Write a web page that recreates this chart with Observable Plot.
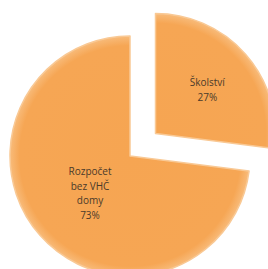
<!DOCTYPE html>
<html>
<head>
<meta charset="utf-8">
<script src="https://cdn.jsdelivr.net/npm/d3@7"></script>
<script src="https://cdn.jsdelivr.net/npm/@observablehq/plot@0.6"></script>
<style>
  html, body { margin: 0; padding: 0; background: #ffffff; }
  #chart svg { display: block; }
</style>
</head>
<body>
<div id="chart"></div>
<script>
const categories = ["Školství", "Rozpočet bez VHČ domy"];
const labelLines = [["Školství", "27%"], ["Rozpočet", "bez VHČ", "domy", "73%"]];
const values = [27, 73];
const explode = [34, 0];

const W = 268, H = 269;
const center = [130, 156];
const radius = 120;

const arcs = d3.pie().sort(null)(values);
const slices = arcs.map((a, i) => {
  const mid = (a.startAngle + a.endAngle) / 2;
  const dx = Math.sin(mid), dy = -Math.cos(mid);
  const cx = center[0] + explode[i] * dx, cy = center[1] + explode[i] * dy;
  const lf = i === 0 ? 0.57 : 0.45;
  return {
    category: categories[i],
    startAngle: a.startAngle, endAngle: a.endAngle,
    cx, cy,
    lx: cx + lf * radius * dx,
    ly: cy + lf * radius * dy,
    text: labelLines[i].join("\n")
  };
});

function pieMark(index, scales, vals, dimensions) {
  const g = d3.create("svg:g");
  const rPx = scales.x(radius) - scales.x(0);
  const defs = g.append("defs");
  const grad = defs.append("radialGradient").attr("id", "pg").attr("gradientUnits", "userSpaceOnUse")
    .attr("cx", 0).attr("cy", 0).attr("r", rPx);
  grad.append("stop").attr("offset", "0%").attr("stop-color", "#f6a552");
  grad.append("stop").attr("offset", "92%").attr("stop-color", "#f6a654");
  grad.append("stop").attr("offset", "100%").attr("stop-color", "#f8bb7a");
  const arc = d3.arc().innerRadius(0).outerRadius(rPx);
  for (const s of slices) {
    g.append("path")
      .attr("transform", `translate(${scales.x(s.cx)},${scales.y(s.cy)})`)
      .attr("d", arc({startAngle: s.startAngle, endAngle: s.endAngle}))
      .attr("fill", "url(#pg)")
      .attr("stroke", "#f9c995")
      .attr("stroke-width", 1.5)
      .attr("stroke-linejoin", "round");
  }
  return g.node();
}

const chart = Plot.plot({
  width: W, height: H,
  margin: 0,
  x: {domain: [0, W], axis: null},
  y: {domain: [0, H], axis: null, reverse: true},
  style: {background: "#ffffff", fontFamily: "'Open Sans', 'DejaVu Sans', sans-serif"},
  marks: [
    pieMark,
    Plot.text(slices, {
      x: "lx", y: "ly", text: "text",
      fill: "#4a3a2a", fontSize: 10, lineHeight: 1.45, textAnchor: "middle"
    })
  ]
});
document.getElementById("chart").appendChild(chart);
</script>
</body>
</html>
